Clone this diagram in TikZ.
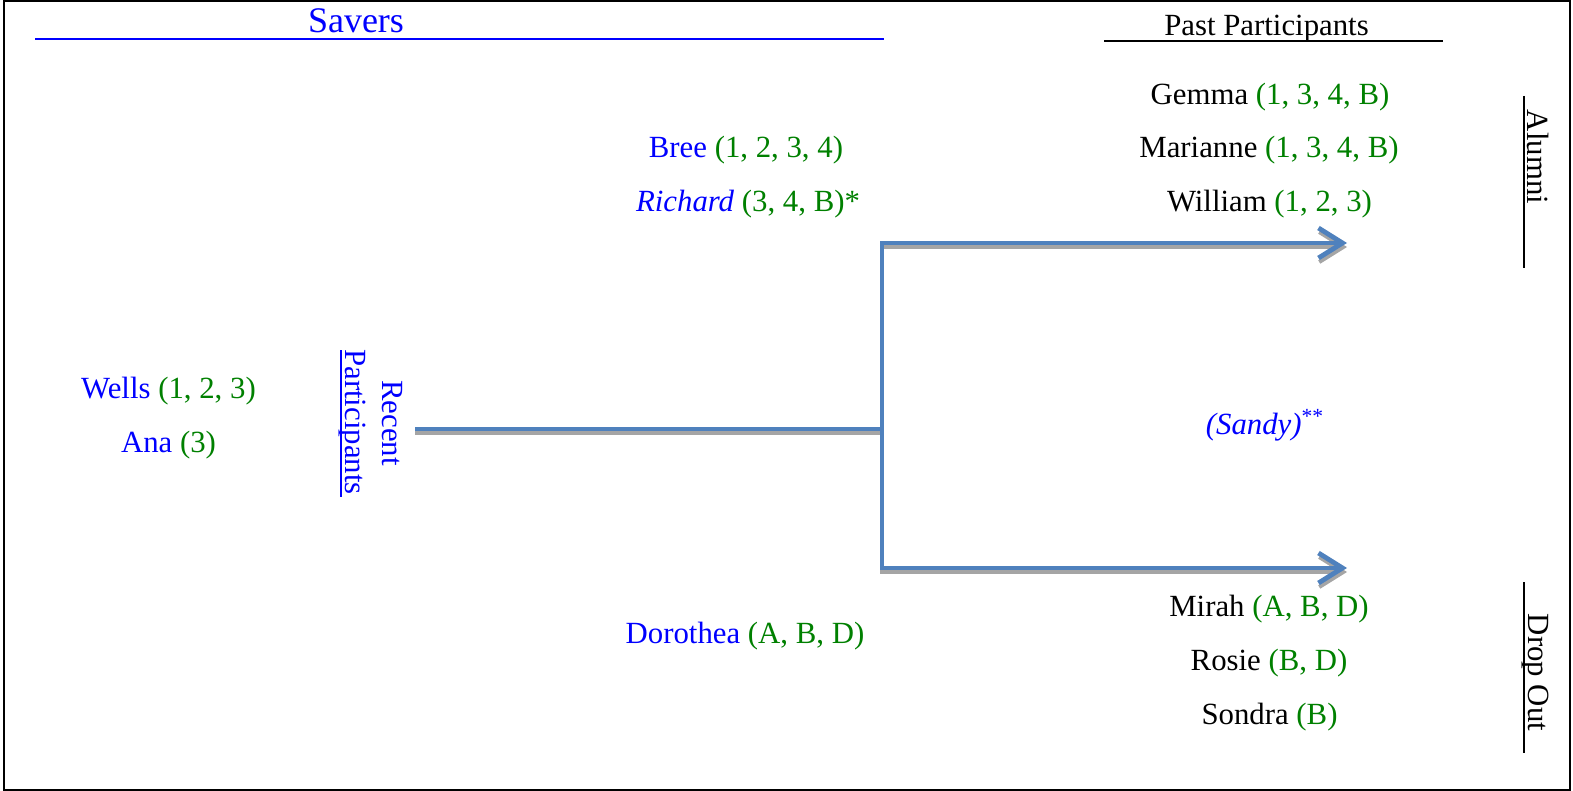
\documentclass[tikz,border=0pt]{standalone}
\usepackage{fontspec}
\setmainfont{Liberation Serif}
\usetikzlibrary{arrows.meta}
\definecolor{tblue}{RGB}{0,0,255}
\definecolor{tgreen}{RGB}{0,128,0}
\definecolor{abl}{RGB}{79,129,189}
\definecolor{shd}{RGB}{165,165,165}
\begin{document}
\begin{tikzpicture}[x=0.5pt,y=-0.5pt,
  lbl/.style={anchor=base,inner sep=0pt,font=\fontsize{15.4}{18}\selectfont},
  vlbl/.style={lbl,rotate=-90},
  rule/.style={line width=1pt},
  conn/.style={abl,line width=2.4pt,line join=miter},
  shdw/.style={shd,line width=2pt},
  head/.style={-{Straight Barb[length=12pt,width=15pt]}}]
\useasboundingbox (0,0) rectangle (1573,791);
\draw[rule] (4,1.5) rectangle (1570,789.5);

% headings
\node[anchor=base,inner sep=0pt,tblue,font=\fontsize{18}{20}\selectfont] (savers) at (356,33) {Savers};
\draw[rule,tblue] (35,39) -- (884,39);
\node[lbl] (past) at (1266.5,36) {Past Participants};
\draw[rule] (1104,40.7) -- (1443,40.7);

% recent participants
\node[vlbl,tblue] (recent) at (382,423) {Recent};
\node[vlbl,tblue] (partic) at (345,422) {Participants};
\draw[rule,tblue] (341,350) -- (341,497);

% side labels
\node[vlbl] (alumni) at (1527.7,157) {Alumni};
\draw[rule] (1524,96) -- (1524,268);
\node[vlbl] (dropout) at (1528,672.5) {Drop Out};
\draw[rule] (1524,582) -- (1524,753);

% left names
\node[lbl,tblue] (wells) at (168.5,398) {Wells \textcolor{tgreen}{(1, 2, 3)}};
\node[lbl,tblue] (ana) at (168.5,452) {Ana \textcolor{tgreen}{(3)}};

% middle names
\node[lbl,tblue] (bree) at (746,158) {Bree \textcolor{tgreen}{(1, 2, 3, 4)}};
\node[lbl,tblue] (richard) at (748,212) {\textit{Richard} \textcolor{tgreen}{(3, 4, B)*}};
\node[lbl,tblue] (dorothea) at (745,643) {Dorothea \textcolor{tgreen}{(A, B, D)}};

% right names
\node[lbl] (gemma) at (1270,105) {Gemma \textcolor{tgreen}{(1, 3, 4, B)}};
\node[lbl] (marianne) at (1269,158) {Marianne \textcolor{tgreen}{(1, 3, 4, B)}};
\node[lbl] (william) at (1269.5,212) {William \textcolor{tgreen}{(1, 2, 3)}};
\node[lbl,tblue] (sandy) at (1265,434) {\textit{(Sandy)}\textsuperscript{**}};
\node[lbl] (mirah) at (1269,616) {Mirah \textcolor{tgreen}{(A, B, D)}};
\node[lbl] (rosie) at (1269,670) {Rosie \textcolor{tgreen}{(B, D)}};
\node[lbl] (sondra) at (1269.5,724) {Sondra \textcolor{tgreen}{(B)}};

% connector points
\coordinate (start) at (415,429);
\coordinate (junc) at (882,429);
\coordinate (jtop) at (882,243);
\coordinate (jbot) at (882,568);
\coordinate (atop) at (1347,243);
\coordinate (abot) at (1347,568);

% shadows
\draw[shdw] ([shift={(0,4)}]start) -- ([shift={(0,4)}]junc);
\draw[shdw,head] ([shift={(-2,4)}]jtop) -- ([shift={(0,4)}]atop);
\draw[shdw,head] ([shift={(-2,4)}]jbot) -- ([shift={(0,4)}]abot);

% connectors
\draw[conn] (start) -- (junc);
\draw[conn,head] (junc) -- (jtop) -- (atop);
\draw[conn,head] (junc) -- (jbot) -- (abot);
\end{tikzpicture}
\end{document}
